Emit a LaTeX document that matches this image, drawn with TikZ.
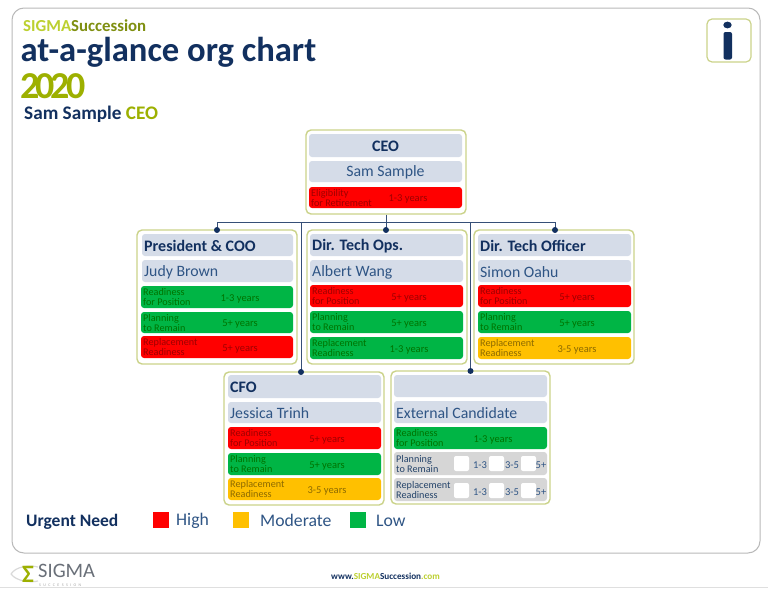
\documentclass[tikz,border=0pt]{standalone}
\usepackage{fontspec}
\setmainfont{Carlito}
\newfontfamily\spacedfont[LetterSpace=60]{Carlito}
\definecolor{navy}{HTML}{12305F}
\definecolor{midblue}{HTML}{2F5585}
\definecolor{olive}{HTML}{9DB000}
\definecolor{lime}{HTML}{BCD030}
\definecolor{darkolive}{HTML}{7F8F10}
\definecolor{cardline}{HTML}{CBD38A}
\definecolor{slate}{HTML}{D5DCE8}
\definecolor{rrd}{HTML}{FF0000}
\definecolor{ggn}{HTML}{00B545}
\definecolor{amb}{HTML}{FFC000}
\definecolor{gry}{HTML}{D6D6D6}
\tikzset{
  x=1pt,y=-1pt,
  cardbox/.style={draw=cardline,line width=1.4pt,fill=white,rounded corners=5pt,inner sep=0pt},
  slatebox/.style={fill=slate,rounded corners=3pt,inner sep=0pt},
  barbox/.style={rounded corners=3pt,inner sep=0pt},
  titletext/.style={font=\fontsize{16}{16}\selectfont\bfseries,text=navy,inner sep=0pt,yshift=-1pt},
  nametext/.style={font=\fontsize{15.8}{15.8}\selectfont,text=midblue,inner sep=0pt,yshift=-1pt},
  bartext/.style={font=\fontsize{10.2}{10}\selectfont,align=left,inner sep=0pt,anchor=west},
  valtext/.style={font=\fontsize{10.5}{10.5}\selectfont,inner sep=0pt,yshift=-1.5pt},
  whitebox/.style={fill=white,rounded corners=2pt,inner sep=0pt,minimum width=15pt,minimum height=15pt},
  conn/.style={draw=navy!85!white,line width=0.9pt},
  jdot/.style={circle,fill=navy,inner sep=0pt,minimum size=6pt},
  legendsq/.style={inner sep=0pt,minimum width=16.5pt,minimum height=16.5pt},
  legendtext/.style={font=\fontsize{17.7}{17.7}\selectfont,text=midblue,inner sep=0pt,anchor=west},
}
% name, x0, y0, x1, y1, style
\newcommand\bx[6]{%
  \pgfmathsetmacro\bxw{#4-#2}\pgfmathsetmacro\bxh{#5-#3}%
  \node[#6,minimum width=\bxw pt,minimum height=\bxh pt] (#1) at ({(#2+#4)/2},{(#3+#5)/2}) {};}
% name, x0, y0, x1, y1, colour, text colour, label, value
\newcommand\rowbar[9]{%
  \bx{#1}{#2}{#3}{#4}{#5}{barbox,fill=#6}%
  \node[bartext,text=#7] (#1-l) at ({#2+2},{(#3+#5)/2}) {#8};%
  \node[valtext,text=#7] (#1-v) at ({#2+99},{(#3+#5)/2}) {#9};}
\colorlet{trd}{red!62!black}
\colorlet{tgn}{green!45!black}
\colorlet{tam}{amb!55!black}
\begin{document}
\begin{tikzpicture}
\useasboundingbox (0,0) rectangle (768,589);
\fill[white] (0,0) rectangle (768,589);
\draw[gray!55,line width=1pt,rounded corners=12pt] (12,8) rectangle (760,553);
\draw[gray!25,line width=0.8pt] (0,587.5) -- (768,587.5);

% heading
\node[anchor=base west,inner sep=0pt,font=\fontsize{16.8}{16.8}\selectfont\bfseries] (brand) at (23,31) {\textcolor{lime}{SIGMA}\textcolor{darkolive}{Succession}};
\node[anchor=base west,inner sep=0pt,font=\fontsize{34.6}{34.6}\selectfont\bfseries,text=navy] (headline) at (20.5,61) {at-a-glance org chart};
\node[anchor=base west,inner sep=0pt,font=\fontsize{38}{38}\selectfont\bfseries,text=olive] (year) at (20,98) {2\kern-4pt 0\kern-4pt 2\kern-4pt 0};
\node[anchor=base west,inner sep=0pt,font=\fontsize{19.2}{19.2}\selectfont\bfseries,text=navy] (who) at (24,119) {Sam Sample \textcolor{olive}{CEO}};

% info icon
\bx{info}{707}{19}{751}{62}{draw=cardline,line width=1.2pt,rounded corners=5pt,fill=white,inner sep=0pt}
\fill[navy] (727.5,25) ellipse (4.2pt and 3.4pt);
\fill[navy,rounded corners=2pt] (723.5,32) rectangle (732,59.5);

% cards
\bx{ceo}{306}{130}{466}{214}{cardbox}
\bx{pres}{137}{230}{297}{364}{cardbox}
\bx{ops}{307}{230}{467}{364}{cardbox}
\bx{cto}{474}{230}{634}{364}{cardbox}
\bx{cfo}{224}{372}{384}{505}{cardbox}
\bx{ext}{391}{371}{550}{504}{cardbox}

% connectors
\coordinate (bus) at (386,222);
\coordinate (cfotop) at (301,372);
\coordinate (exttop) at (470.5,371);
\coordinate (prestop) at (217,230);
\coordinate (opstop) at (386,230);
\coordinate (ctotop) at (555,230);
\draw[conn] (ceo.south) -- (bus);
\draw[conn] (bus) -| (prestop);
\draw[conn] (bus) -| (ctotop);
\draw[conn] (bus) -- (opstop);
\draw[conn] (bus) -| (cfotop);
\draw[conn] (bus) -| (exttop);
\node[jdot] (d1) at (prestop) {};
\node[jdot] (d2) at (opstop) {};
\node[jdot] (d3) at (ctotop) {};
\node[jdot] (d4) at (cfotop) {};
\node[jdot] (d5) at (exttop) {};

% CEO
\bx{ceo-t}{309}{134}{462}{157}{slatebox}
\node[titletext] at (ceo-t.center) {CEO};
\bx{ceo-n}{309}{161}{462}{182}{slatebox}
\node[nametext] at (ceo-n.center) {Sam Sample};
\rowbar{ceo-a}{309}{187}{462}{208}{rrd}{trd}{Eligibility\\for Retirement}{1-3 years}

% President
\bx{pres-t}{142}{234}{293}{256}{slatebox}
\node[titletext,anchor=west] at (144,245) {President \& COO};
\bx{pres-n}{142}{260}{293}{282}{slatebox}
\node[nametext,anchor=west] at (144,271) {Judy Brown};
\rowbar{pres-a}{141}{286}{293}{308}{ggn}{tgn}{Readiness\\for Position}{1-3 years}
\rowbar{pres-b}{141}{312}{293}{333}{ggn}{tgn}{Planning\\to Remain}{5+ years}
\rowbar{pres-c}{141}{336}{293}{358}{rrd}{trd}{Replacement\\Readiness}{5+ years}

% Ops
\bx{ops-t}{310}{234}{463}{256}{slatebox}
\node[titletext,anchor=west] at (312,245) {Dir. Tech Ops.};
\bx{ops-n}{310}{260}{463}{282}{slatebox}
\node[nametext,anchor=west] at (312,271) {Albert Wang};
\rowbar{ops-a}{310}{285}{463}{307}{rrd}{trd}{Readiness\\for Position}{5+ years}
\rowbar{ops-b}{310}{311}{463}{333}{ggn}{tgn}{Planning\\to Remain}{5+ years}
\rowbar{ops-c}{310}{337}{463}{359}{ggn}{tgn}{Replacement\\Readiness}{1-3 years}

% CTO
\bx{cto-t}{478}{234}{631}{256}{slatebox}
\node[titletext,anchor=west] at (480,245) {Dir. Tech Officer};
\bx{cto-n}{478}{260}{631}{282}{slatebox}
\node[nametext,anchor=west] at (480,271) {Simon Oahu};
\rowbar{cto-a}{478}{285}{631}{307}{rrd}{trd}{Readiness\\for Position}{5+ years}
\rowbar{cto-b}{478}{311}{631}{333}{ggn}{tgn}{Planning\\to Remain}{5+ years}
\rowbar{cto-c}{478}{337}{631}{359}{amb}{tam}{Replacement\\Readiness}{3-5 years}

% CFO
\bx{cfo-t}{228}{375}{381}{398}{slatebox}
\node[titletext,anchor=west] at (230,386.5) {CFO};
\bx{cfo-n}{228}{402}{381}{423}{slatebox}
\node[nametext,anchor=west] at (230,412.5) {Jessica Trinh};
\rowbar{cfo-a}{228}{427}{381}{449}{rrd}{trd}{Readiness\\for Position}{5+ years}
\rowbar{cfo-b}{228}{453}{381}{475}{ggn}{tgn}{Planning\\to Remain}{5+ years}
\rowbar{cfo-c}{228}{478}{381}{500}{amb}{tam}{Replacement\\Readiness}{3-5 years}

% External
\bx{ext-t}{394}{375}{547}{397}{slatebox}
\bx{ext-n}{394}{401}{547}{423}{slatebox}
\node[nametext,anchor=west] at (396,412) {External Candidate};
\rowbar{ext-a}{394}{427}{547}{449}{ggn}{tgn}{Readiness\\for Position}{1-3 years}
\bx{ext-b}{394}{452}{547}{475}{barbox,fill=gry}
\node[bartext,text=midblue!80!black] (ext-bl) at (396,463.5) {Planning\\to Remain};
\bx{ext-c}{394}{478}{547}{501}{barbox,fill=gry}
\node[bartext,text=midblue!80!black] (ext-cl) at (396,489.5) {Replacement\\Readiness};
\foreach \yy/\nm in {463.5/b,490.5/c}{
  \node[whitebox] (w1\nm) at (461.5,\yy) {};
  \node[whitebox] (w2\nm) at (496.5,\yy) {};
  \node[whitebox] (w3\nm) at (528.5,\yy) {};
  \node[valtext,text=midblue] (o1\nm) at (480,\yy) {1-3};
  \node[valtext,text=midblue] (o2\nm) at (512,\yy) {3-5};
  \node[valtext,text=midblue] (o3\nm) at (541,\yy) {5+};
}

% legend
\node[anchor=base west,inner sep=0pt,font=\fontsize{17.5}{17.5}\selectfont\bfseries,text=navy] (urgent) at (26,526) {Urgent Need};
\node[legendsq,fill=rrd] (lh) at (161,520) {};
\node[legendtext] (lht) at (176,520.5) {High};
\node[legendsq,fill=amb] (lm) at (241,520) {};
\node[legendtext] (lmt) at (260,520.5) {Moderate};
\node[legendsq,fill=ggn] (ll) at (358,520) {};
\node[legendtext] (llt) at (376,520.5) {Low};

% footer
\draw[gray!30,line width=1.2pt] (11,574) .. controls (16,566) and (30,565) .. (38,567);
\draw[gray!30,line width=1.2pt] (11,574) .. controls (16,581) and (30,583) .. (38,581);
\node[inner sep=0pt,font=\fontsize{25}{25}\selectfont\bfseries,text=olive] (sigmaglyph) at (28,574) {Σ};
\node[anchor=base west,inner sep=0pt,font=\fontsize{20.5}{20.5}\selectfont,text=gray!80!navy] (logo) at (38,577.5) {SIGMA};
\node[anchor=base west,inner sep=0pt,font=\fontsize{4}{4}\spacedfont\selectfont,text=gray!70] (logosub) at (39,586) {SUCCESSION};
\node[anchor=base west,inner sep=0pt,font=\fontsize{9.2}{9.2}\selectfont\bfseries,text=navy] (url) at (331,579.5) {www.\textcolor{lime}{SIGMA}Succession\textcolor{lime}{.com}};
\end{tikzpicture}
\end{document}
